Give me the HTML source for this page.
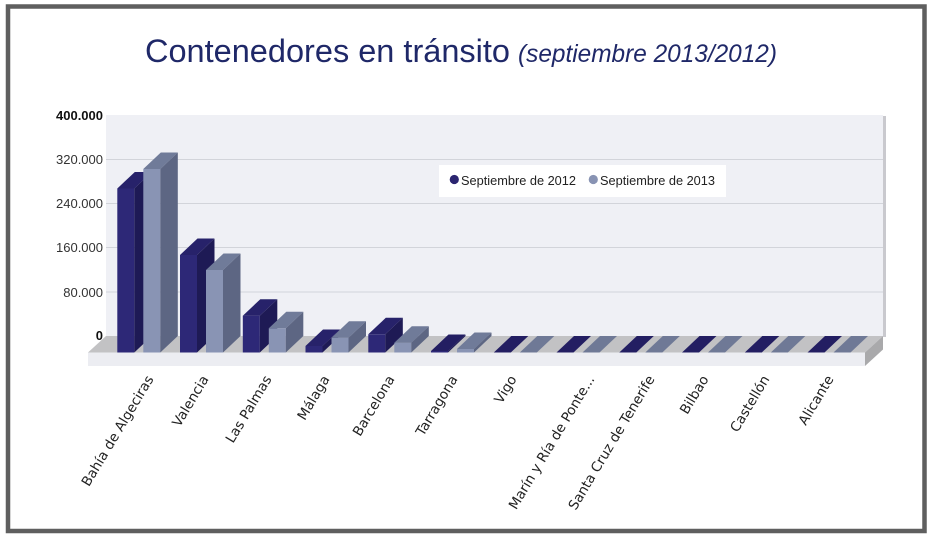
<!DOCTYPE html>
<html>
<head>
<meta charset="utf-8">
<style>
html,body{margin:0;padding:0;background:#fff;}
svg{display:block;}
</style>
</head>
<body>
<svg width="930" height="539" viewBox="0 0 930 539" xmlns="http://www.w3.org/2000/svg">
<rect x="0" y="0" width="930" height="539" fill="#ffffff"/>
<rect x="8" y="6.5" width="916.5" height="524.5" fill="#ffffff" stroke="#5f5f5f" stroke-width="4.5"/>

<!-- Title -->
<text x="145" y="62" font-family="Liberation Sans, sans-serif" font-size="32" fill="#1f2868" textLength="365" lengthAdjust="spacingAndGlyphs">Contenedores en tránsito</text>
<text x="518" y="62" font-family="Liberation Sans, sans-serif" font-size="25" font-style="italic" fill="#1f2868" textLength="259" lengthAdjust="spacingAndGlyphs">(septiembre 2013/2012)</text>

<!-- Back wall -->
<rect x="106" y="115" width="777" height="221" fill="#eff0f5"/>
<rect x="883" y="116" width="3" height="221" fill="#c9c9ce"/>
<g stroke="#d2d4da" stroke-width="1">
<line x1="106" y1="159.5" x2="883" y2="159.5"/>
<line x1="106" y1="203.5" x2="883" y2="203.5"/>
<line x1="106" y1="247.5" x2="883" y2="247.5"/>
<line x1="106" y1="292" x2="883" y2="292"/>
</g>

<!-- Floor -->
<polygon points="106,336 883,336 865,352.5 88,352.5" fill="#c2c2c4"/>
<rect x="88" y="352.5" width="777" height="13.5" fill="#ecedf2"/>
<polygon points="865,352.5 883,336 883,349.5 865,366" fill="#a9a9ab"/>

<!-- Y axis labels -->
<g font-family="Liberation Sans, sans-serif" font-size="13" text-anchor="end">
<text x="103" y="120" font-weight="bold" fill="#111">400.000</text>
<text x="103" y="164" fill="#333">320.000</text>
<text x="103" y="208" fill="#333">240.000</text>
<text x="103" y="252" fill="#333">160.000</text>
<text x="103" y="297" fill="#333">80.000</text>
<text x="103" y="340" font-weight="bold" fill="#111">0</text>
</g>

<!-- Bars -->
<g>
<!-- Group 0 -->
<rect x="117.3" y="188.5" width="17" height="164" fill="#2d2877"/>
<polygon points="117.3,188.5 134.3,188.5 151.8,172 134.8,172" fill="#27226a"/>
<polygon points="134.3,188.5 151.8,172 151.8,336 134.3,352.5" fill="#1e1a55"/>
<rect x="143.3" y="169" width="17" height="183.5" fill="#8994b4"/>
<polygon points="143.3,169 160.3,169 177.8,152.5 160.8,152.5" fill="#707b99"/>
<polygon points="160.3,169 177.8,152.5 177.8,336 160.3,352.5" fill="#5d6683"/>
<!-- Group 1 -->
<rect x="180" y="255" width="17" height="97.5" fill="#2d2877"/>
<polygon points="180,255 197,255 214.5,238.5 197.5,238.5" fill="#27226a"/>
<polygon points="197,255 214.5,238.5 214.5,336 197,352.5" fill="#1e1a55"/>
<rect x="206" y="270" width="17" height="82.5" fill="#8994b4"/>
<polygon points="206,270 223,270 240.5,253.5 223.5,253.5" fill="#707b99"/>
<polygon points="223,270 240.5,253.5 240.5,336 223,352.5" fill="#5d6683"/>
<!-- Group 2 -->
<rect x="242.8" y="315.7" width="17" height="36.8" fill="#2d2877"/>
<polygon points="242.8,315.7 259.8,315.7 277.3,299.2 260.3,299.2" fill="#27226a"/>
<polygon points="259.8,315.7 277.3,299.2 277.3,336 259.8,352.5" fill="#1e1a55"/>
<rect x="268.8" y="328.3" width="17" height="24.2" fill="#8994b4"/>
<polygon points="268.8,328.3 285.8,328.3 303.3,311.8 286.3,311.8" fill="#707b99"/>
<polygon points="285.8,328.3 303.3,311.8 303.3,336 285.8,352.5" fill="#5d6683"/>
<!-- Group 3 -->
<rect x="305.5" y="346" width="17" height="6.5" fill="#2d2877"/>
<polygon points="305.5,346 322.5,346 340,329.5 323,329.5" fill="#27226a"/>
<polygon points="322.5,346 340,329.5 340,336 322.5,352.5" fill="#1e1a55"/>
<rect x="331.5" y="337.7" width="17" height="14.8" fill="#8994b4"/>
<polygon points="331.5,337.7 348.5,337.7 366,321.2 349,321.2" fill="#707b99"/>
<polygon points="348.5,337.7 366,321.2 366,336 348.5,352.5" fill="#5d6683"/>
<!-- Group 4 -->
<rect x="368.3" y="334.3" width="17" height="18.2" fill="#2d2877"/>
<polygon points="368.3,334.3 385.3,334.3 402.8,317.8 385.8,317.8" fill="#27226a"/>
<polygon points="385.3,334.3 402.8,317.8 402.8,336 385.3,352.5" fill="#1e1a55"/>
<rect x="394.3" y="342.7" width="17" height="9.8" fill="#8994b4"/>
<polygon points="394.3,342.7 411.3,342.7 428.8,326.2 411.8,326.2" fill="#707b99"/>
<polygon points="411.3,342.7 428.8,326.2 428.8,336 411.3,352.5" fill="#5d6683"/>
<!-- Group 5 -->
<rect x="431" y="351" width="17" height="1.5" fill="#2d2877"/>
<polygon points="431,351 448,351 465.5,334.5 448.5,334.5" fill="#231e62"/>
<polygon points="448,351 465.5,334.5 465.5,336 448,352.5" fill="#1e1a55"/>
<rect x="457" y="349" width="17" height="3.5" fill="#8994b4"/>
<polygon points="457,349 474,349 491.5,332.5 474.5,332.5" fill="#707b99"/>
<polygon points="474,349 491.5,332.5 491.5,336 474,352.5" fill="#5d6683"/>
<!-- Zero groups -->
<polygon points="493.8,352.5 510.8,352.5 528.3,336 511.3,336" fill="#231e62"/>
<polygon points="519.8,352.5 536.8,352.5 554.3,336 537.3,336" fill="#6f7996"/>
<polygon points="556.5,352.5 573.5,352.5 591,336 574,336" fill="#231e62"/>
<polygon points="582.5,352.5 599.5,352.5 617,336 600,336" fill="#6f7996"/>
<polygon points="619.3,352.5 636.3,352.5 653.8,336 636.8,336" fill="#231e62"/>
<polygon points="645.3,352.5 662.3,352.5 679.8,336 662.8,336" fill="#6f7996"/>
<polygon points="682,352.5 699,352.5 716.5,336 699.5,336" fill="#231e62"/>
<polygon points="708,352.5 725,352.5 742.5,336 725.5,336" fill="#6f7996"/>
<polygon points="744.8,352.5 761.8,352.5 779.3,336 762.3,336" fill="#231e62"/>
<polygon points="770.8,352.5 787.8,352.5 805.3,336 788.3,336" fill="#6f7996"/>
<polygon points="807.5,352.5 824.5,352.5 842,336 825,336" fill="#231e62"/>
<polygon points="833.5,352.5 850.5,352.5 868,336 851,336" fill="#6f7996"/>
</g>

<!-- Legend -->
<rect x="439" y="165" width="287" height="32" fill="#ffffff"/>
<circle cx="454.3" cy="179.5" r="4.6" fill="#2b2570"/>
<circle cx="593.3" cy="179.5" r="4.6" fill="#8893b3"/>
<g font-family="Liberation Sans, sans-serif" font-size="13" fill="#222">
<text x="461" y="185" textLength="115" lengthAdjust="spacingAndGlyphs">Septiembre de 2012</text>
<text x="600" y="185" textLength="115" lengthAdjust="spacingAndGlyphs">Septiembre de 2013</text>
</g>

<!-- X labels -->
<g font-family="DejaVu Sans, Liberation Sans, sans-serif" font-size="13.6" fill="#222" text-anchor="end">
<text transform="translate(154,379) rotate(-59)">Bahía de Algeciras</text>
<text transform="translate(209,379) rotate(-59)">Valencia</text>
<text transform="translate(272,379) rotate(-59)">Las Palmas</text>
<text transform="translate(330,379) rotate(-59)">Málaga</text>
<text transform="translate(395,379) rotate(-59)">Barcelona</text>
<text transform="translate(458,379) rotate(-59)">Tarragona</text>
<text transform="translate(517,379) rotate(-59)">Vigo</text>
<text transform="translate(595,379) rotate(-59)">Marín y Ría de Ponte...</text>
<text transform="translate(655,379) rotate(-59)">Santa Cruz de Tenerife</text>
<text transform="translate(709,379) rotate(-59)">Bilbao</text>
<text transform="translate(770,379) rotate(-59)">Castellón</text>
<text transform="translate(834,379) rotate(-59)">Alicante</text>
</g>
</svg>
</body>
</html>
